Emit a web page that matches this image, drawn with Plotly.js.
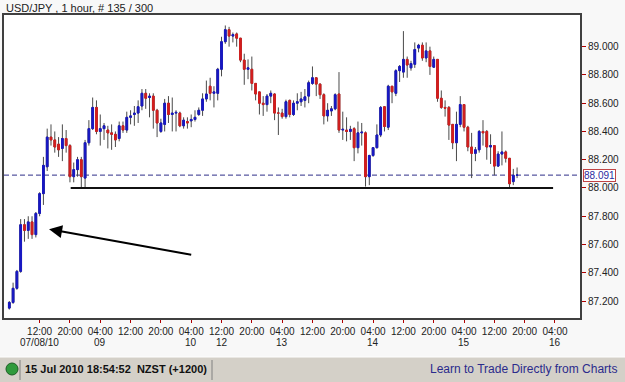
<!DOCTYPE html>
<html>
<head>
<meta charset="utf-8">
<script src="https://cdn.plot.ly/plotly-3.0.1.min.js"></script>
<style>
html,body{margin:0;padding:0;background:#f8f8f8;}
#chart{width:625px;height:382px;}
</style>
</head>
<body>
<div id="chart"></div>
<script>
// ---- data: USD/JPY, 1 hour candles (135 bars) ----
const openP = [
87.15,87.19,87.29,87.41,87.74,87.70,87.76,87.67,87.82,87.96,
88.15,88.36,88.34,88.31,88.28,88.35,88.30,88.08,88.13,88.20,
88.07,88.32,88.42,88.57,88.40,88.42,88.41,88.39,88.38,88.35,
88.44,88.41,88.50,88.52,88.53,88.58,88.67,88.64,88.65,88.55,
88.40,88.45,88.60,88.52,88.53,88.53,88.44,88.47,88.475,88.485,
88.52,88.55,88.63,88.72,88.67,88.67,88.84,89.035,89.12,89.075,
89.09,89.06,88.905,88.84,88.84,88.74,88.68,88.60,88.59,88.65,
88.665,88.53,88.53,88.505,88.62,88.52,88.60,88.61,88.62,88.65,
88.74,88.78,88.735,88.66,88.51,88.545,88.56,88.665,88.41,88.41,
88.40,88.42,88.285,88.39,88.39,88.08,88.23,88.285,88.375,88.575,
88.43,88.72,88.67,88.83,88.82,88.91,88.85,88.875,88.99,89.01,
88.92,88.97,88.855,88.91,88.635,88.57,88.57,88.45,88.32,88.45,
88.59,88.43,88.29,88.245,88.27,88.40,88.40,88.29,88.30,88.155,
88.24,88.255,88.21,88.045,88.09];
const highP = [
87.20,87.33,87.42,87.78,87.78,87.80,87.80,87.83,87.97,88.22,
88.42,88.45,88.40,88.36,88.45,88.41,88.31,88.18,88.22,88.22,
88.34,88.48,88.64,88.62,88.52,88.46,88.44,88.45,88.40,88.47,
88.47,88.54,88.55,88.58,88.62,88.70,88.70,88.67,88.67,88.56,
88.49,88.63,88.65,88.64,88.55,88.54,88.50,88.50,88.52,88.55,
88.57,88.67,88.76,88.78,88.72,88.85,89.07,89.15,89.14,89.10,
89.10,89.06,88.95,88.91,88.93,88.74,88.68,88.65,88.665,88.69,
88.67,88.57,88.56,88.625,88.625,88.62,88.67,88.68,88.70,88.76,
88.86,88.78,88.74,88.67,88.60,88.58,88.67,88.82,88.54,88.50,
88.44,88.43,88.47,88.46,88.40,88.235,88.29,88.45,88.58,88.58,
88.73,88.72,88.84,88.87,89.11,88.93,88.90,89.03,89.02,89.03,
89.03,89.00,88.93,88.91,88.69,88.62,88.58,88.45,88.54,88.65,
88.59,88.44,88.39,88.29,88.41,88.48,88.41,88.38,88.30,88.26,
88.40,88.265,88.21,88.135,88.145];
const lowP = [
87.14,87.18,87.28,87.40,87.62,87.64,87.64,87.65,87.80,87.88,
88.12,88.30,88.25,88.22,88.19,88.25,88.04,88.04,88.08,88.00,
88.00,88.30,88.41,88.38,88.30,88.34,88.28,88.27,88.29,88.33,
88.39,88.39,88.45,88.44,88.46,88.55,88.56,88.50,88.42,88.36,
88.39,88.40,88.46,88.40,88.40,88.43,88.42,88.42,88.43,88.47,
88.51,88.51,88.61,88.62,88.57,88.62,88.79,89.02,89.00,89.03,
89.00,88.89,88.73,88.77,88.69,88.62,88.52,88.51,88.54,88.60,
88.48,88.375,88.49,88.49,88.50,88.51,88.55,88.58,88.57,88.60,
88.73,88.65,88.63,88.45,88.47,88.51,88.55,88.39,88.34,88.33,
88.34,88.19,88.245,88.30,88.01,88.02,88.22,88.28,88.36,88.40,
88.41,88.60,88.65,88.75,88.78,88.78,88.83,88.85,88.96,88.90,
88.89,88.80,88.85,88.61,88.56,88.505,88.34,88.275,88.19,88.43,
88.40,88.26,88.07,88.19,88.25,88.30,88.20,88.17,88.09,88.15,
88.16,88.18,88.00,88.02,88.07];
const closeP = [
87.19,87.29,87.41,87.74,87.70,87.76,87.67,87.82,87.96,88.16,
88.36,88.34,88.29,88.27,88.35,88.30,88.08,88.13,88.20,88.08,
88.32,88.42,88.57,88.40,88.42,88.44,88.39,88.38,88.34,88.44,
88.41,88.50,88.51,88.53,88.575,88.67,88.635,88.65,88.55,88.46,
88.46,88.60,88.52,88.53,88.535,88.44,88.48,88.46,88.485,88.50,
88.55,88.63,88.665,88.67,88.68,88.84,89.035,89.12,89.075,89.085,
89.06,88.905,88.84,88.85,88.74,88.665,88.60,88.59,88.65,88.67,
88.53,88.53,88.505,88.61,88.52,88.60,88.61,88.63,88.645,88.745,
88.78,88.735,88.66,88.51,88.55,88.56,88.66,88.41,88.415,88.40,
88.415,88.285,88.39,88.395,88.08,88.23,88.285,88.375,88.57,88.435,
88.72,88.68,88.83,88.86,88.91,88.87,88.88,88.98,89.01,88.92,
88.97,88.86,88.91,88.635,88.57,88.565,88.445,88.32,88.45,88.59,
88.43,88.29,88.245,88.27,88.40,88.39,88.29,88.30,88.155,88.24,
88.255,88.21,88.03,88.09,88.091];

// x-axis tick labels (bar index -> time / date)
const tickIdx   = [8,16,24,32,40,48,56,64,72,80,88,96,104,112,120,128,136,144];
const tickTime  = ["12:00","20:00","04:00","12:00","20:00","04:00","12:00","20:00","04:00","12:00","20:00","04:00","12:00","20:00","04:00","12:00","20:00","04:00"];
const tickDate  = ["07/08/10","","09","","","10","12","","13","","","14","","","15","","","16"];
const priceTicks = [87.2,87.4,87.6,87.8,88.0,88.2,88.4,88.6,88.8,89.0];
const supportLevel = 88.0;

const idx = openP.map((_, i) => i);
const bodyHigh = openP.map((o, i) => Math.max(o, closeP[i]));
const bodyLow  = openP.map((o, i) => Math.min(o, closeP[i]));
const lastClose = closeP[closeP.length - 1];

const WICK = '#4a4a4a', UP = '#1818c4', DOWN = '#d41e1e';

const wicks = {
  type: 'candlestick', x: idx, open: openP, high: highP, low: lowP, close: closeP,
  increasing: {line: {color: WICK, width: 1}, fillcolor: WICK},
  decreasing: {line: {color: WICK, width: 1}, fillcolor: WICK},
  whiskerwidth: 0, hoverinfo: 'skip', showlegend: false
};
const bodies = {
  type: 'candlestick', x: idx, open: openP, high: bodyHigh, low: bodyLow, close: closeP,
  increasing: {line: {color: UP, width: 1}, fillcolor: UP},
  decreasing: {line: {color: DOWN, width: 1}, fillcolor: DOWN},
  whiskerwidth: 0, hoverinfo: 'skip', showlegend: false
};

// pixel helpers for items outside the plot area (plot spans x 4..580, y 15..318)
const PX = px => (px - 4) / 576;
const PY = py => (318 - py) / 303;
const FONT = 'Liberation Sans, Arial, sans-serif';

const dateNotes = tickIdx.map((t, i) => tickDate[i] ? {
  text: tickDate[i], xref: 'x', yref: 'paper', x: t, y: PY(342),
  xanchor: 'center', yanchor: 'middle', showarrow: false,
  font: {family: FONT, size: 10, color: '#222'}
} : null).filter(a => a);

const layout = {
  width: 625, height: 382,
  margin: {l: 4, r: 45, t: 15, b: 64, pad: 0},
  paper_bgcolor: '#f8f8f8', plot_bgcolor: '#ffffff',
  boxgap: 0.35,
  showlegend: false,
  font: {family: FONT, size: 10, color: '#222'},
  xaxis: {
    range: [-1.4, 150.6], rangeslider: {visible: false},
    tickmode: 'array', tickvals: tickIdx, ticktext: tickTime, tickangle: 0,
    ticks: 'outside', ticklen: 3, tickcolor: '#b00000', tickwidth: 1,
    showgrid: false, zeroline: false,
    showline: true, mirror: true, linecolor: '#404040', linewidth: 2,
    tickfont: {family: FONT, size: 10, color: '#222'}
  },
  yaxis: {
    range: [87.080, 89.224], side: 'right',
    tickmode: 'array', tickvals: priceTicks, ticktext: priceTicks.map(v => v.toFixed(3)),
    ticks: 'outside', ticklen: 4, tickcolor: '#b00000', tickwidth: 1,
    showgrid: false, zeroline: false,
    showline: true, mirror: true, linecolor: '#404040', linewidth: 2,
    tickfont: {family: FONT, size: 10, color: '#222'}
  },
  shapes: [
    {type: 'line', xref: 'paper', yref: 'y', x0: 0, x1: 1, y0: lastClose, y1: lastClose,
     line: {color: '#2e2e88', width: 1, dash: '5px,3px'}, layer: 'below'},
    {type: 'line', xref: 'x', yref: 'y', x0: 16.2, x1: 143.5, y0: supportLevel, y1: supportLevel,
     line: {color: '#111', width: 2}},
    {type: 'rect', xref: 'paper', yref: 'paper', x0: PX(-2), x1: PX(627), y0: PY(357), y1: PY(384),
     fillcolor: '#d4d0c8', line: {width: 0}},
    {type: 'line', xref: 'paper', yref: 'paper', x0: PX(-2), x1: PX(627), y0: PY(357), y1: PY(357),
     line: {color: '#ffffff', width: 1}},
    {type: 'circle', xref: 'paper', yref: 'paper', x0: PX(6), x1: PX(18), y0: PY(375), y1: PY(363),
     fillcolor: '#2f9a3c', line: {color: '#1c5e24', width: 1}},
    {type: 'line', xref: 'paper', yref: 'paper', x0: PX(20), x1: PX(20), y0: PY(360), y1: PY(380),
     line: {color: '#808080', width: 1}},
    {type: 'line', xref: 'paper', yref: 'paper', x0: PX(212), x1: PX(212), y0: PY(360), y1: PY(380),
     line: {color: '#808080', width: 1}}
  ],
  annotations: [
    {text: 'USD/JPY , 1 hour, # 135 / 300', xref: 'paper', yref: 'paper', x: PX(4), y: PY(8),
     xanchor: 'left', yanchor: 'middle', showarrow: false, font: {family: FONT, size: 11, color: '#222'}},
    {text: lastClose.toFixed(3), xref: 'paper', yref: 'y', x: PX(583), y: lastClose,
     xanchor: 'left', yanchor: 'middle', showarrow: false, bgcolor: '#ffffff',
     bordercolor: '#c04444', borderwidth: 1, borderpad: 0,
     font: {family: FONT, size: 10, color: '#2a2aa0'}},
    {text: '', xref: 'x', yref: 'y', x: 10.5, y: 87.708, axref: 'x', ayref: 'y', ax: 48.4, ay: 87.526,
     showarrow: true, arrowhead: 2, arrowsize: 1.3, arrowwidth: 2, arrowcolor: '#000'},
    {text: '<b>15 Jul 2010 18:54:52  NZST (+1200)</b>', xref: 'paper', yref: 'paper', x: PX(23), y: PY(369),
     xanchor: 'left', yanchor: 'middle', showarrow: false, font: {family: FONT, size: 11, color: '#111'}},
    {text: 'Learn to Trade Directly from Charts', xref: 'paper', yref: 'paper', x: PX(619), y: PY(369),
     xanchor: 'right', yanchor: 'middle', showarrow: false, font: {family: FONT, size: 12, color: '#2b2b8c'}}
  ].concat(dateNotes)
};

Plotly.newPlot('chart', [wicks, bodies], layout, {displayModeBar: false, staticPlot: true});
</script>
</body>
</html>
